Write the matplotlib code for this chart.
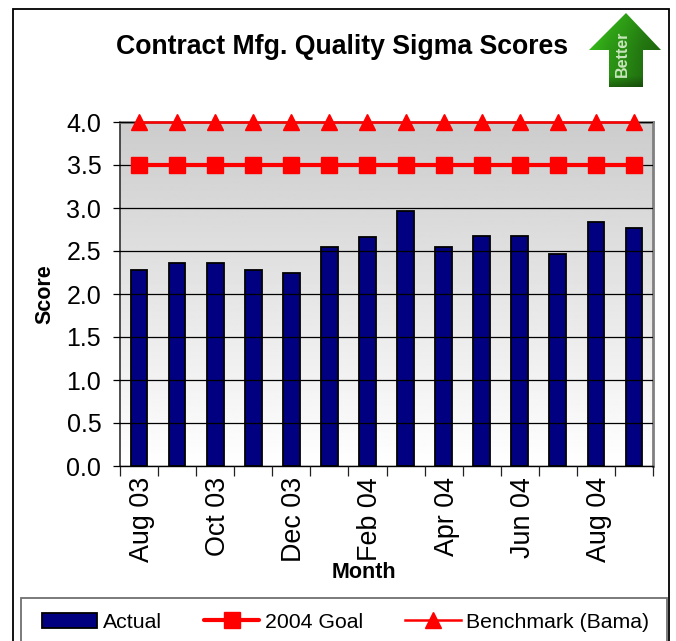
import matplotlib
matplotlib.use('Agg')
import matplotlib.pyplot as plt
from matplotlib.patches import Polygon, Rectangle
from matplotlib.transforms import ScaledTranslation
import numpy as np

months = ['Aug 03', 'Sep 03', 'Oct 03', 'Nov 03', 'Dec 03', 'Jan 04', 'Feb 04',
          'Mar 04', 'Apr 04', 'May 04', 'Jun 04', 'Jul 04', 'Aug 04', 'Sep 04']
actual = [2.28, 2.36, 2.36, 2.28, 2.25, 2.55, 2.66, 2.97, 2.55, 2.68, 2.67, 2.46, 2.84, 2.77]
goal = [3.5] * 14
benchmark = [4.0] * 14
y_ticks = [0.0, 0.5, 1.0, 1.5, 2.0, 2.5, 3.0, 3.5, 4.0]

W, H = 676, 641
plt.rcParams['font.family'] = ['Liberation Sans', 'DejaVu Sans']


def box(x0, y0, x1, y1):
    # pixel box, y measured from the top of the picture
    return [x0 / W, 1 - y1 / H, (x1 - x0) / W, (y1 - y0) / H]


fig = plt.figure(figsize=(W / 100, H / 100), dpi=100)
fig.patch.set_facecolor('white')
fig.add_artist(Rectangle((13 / W, -0.1), 656 / W, 1.1 - 9 / H, transform=fig.transFigure,
                         fill=False, edgecolor='black', linewidth=1.3))
fig.add_artist(Rectangle((21 / W, -0.1), 646 / W, 0.1 + 1 - 598 / H, transform=fig.transFigure,
                         fill=False, edgecolor='#707070', linewidth=1.3))

ax = fig.add_axes(box(120, 122, 653, 466))
x = np.arange(len(months))

# grey to white wall
grad = np.linspace(0.8, 1.0, 256).reshape(-1, 1)
ax.imshow(grad, extent=(-0.5, 13.5, 0, 4), aspect='auto', cmap='gray', vmin=0, vmax=1,
          origin='upper', zorder=0)

ax.yaxis.grid(True, color='black', linewidth=0.9)
ax.set_axisbelow(False)
for g in ax.get_ygridlines():
    g.set_zorder(1)

ax.bar(x, actual, width=0.44, color='#000080', edgecolor='black', linewidth=1.3,
       zorder=2, label='Actual')
ax.plot(x, goal, color='red', linewidth=3, marker='s', markersize=11, zorder=3,
        clip_on=False, solid_capstyle='round', label='2004 Goal')
ax.plot(x, benchmark, color='red', linewidth=1.8, marker='^', markersize=11, zorder=3,
        clip_on=False, label='Benchmark (Bama)')

ax.set_xlim(-0.5, 13.5)
ax.set_ylim(0, 4)
ax.set_yticks(y_ticks)
ax.set_yticklabels(['%.1f' % v for v in y_ticks], fontsize=18)
ax.set_xticks(np.arange(len(months) + 1) - 0.5)
ax.set_xticklabels([])
ax.set_xticks(x[::2], [months[i] for i in x[::2]], minor=True, rotation=90, fontsize=19.4)
ax.tick_params(axis='x', which='minor', length=0, pad=8)
ax.tick_params(axis='x', which='major', length=7, width=0.9, color='#222222')
ax.tick_params(axis='y', length=5, width=0.9, pad=8.5)

# month labels sit a little right of the bar centres
nudge = ScaledTranslation(3 / 100, 0, fig.dpi_scale_trans)
for lab in ax.get_xticklabels(minor=True):
    lab.set_transform(lab.get_transform() + nudge)

for s in ['top', 'right']:
    ax.spines[s].set_color('#808080')
    ax.spines[s].set_linewidth(2)
ax.spines['left'].set_color('#303030')
ax.spines['left'].set_linewidth(1.2)
ax.spines['bottom'].set_color('black')
ax.spines['bottom'].set_linewidth(1)

fig.text(342 / W, 1 - 47 / H, 'Contract Mfg. Quality Sigma Scores', fontsize=19.2,
         fontweight='bold', ha='center', va='center')
fig.text(45 / W, 1 - 294 / H, 'Score', fontsize=15.5, fontweight='bold', rotation=90,
         ha='center', va='center')
fig.text(364 / W, 1 - 573 / H, 'Month', fontsize=15.5, fontweight='bold',
         ha='center', va='center')

handles, labels = ax.get_legend_handles_labels()
order = [labels.index(n) for n in ['Actual', '2004 Goal', 'Benchmark (Bama)']]
fig.legend([handles[i] for i in order], [labels[i] for i in order],
           loc='center left', ncols=3, fontsize=15.3, frameon=False,
           bbox_to_anchor=(42 / W, 1 - 622 / H), borderpad=0, borderaxespad=0,
           handlelength=2.6, handletextpad=0.25, columnspacing=2.0)

# "Better" arrow badge
arrow = fig.add_axes([0, 0, 1, 1], facecolor='none')
across = np.interp(np.linspace(0, 1, 72), [0, 0.27, 0.5, 0.75, 1], [1.25, 1.05, 0.95, 0.8, 0.7])
down = np.interp(np.linspace(0, 1, 74), [0, 0.45, 0.85, 1], [1.15, 1.0, 0.95, 0.65])
base = np.array([0.17, 0.58, 0.08])
shade = np.clip(np.outer(down, across)[:, :, np.newaxis] * base, 0, 1)
im = arrow.imshow(shade, extent=(589, 661, 87, 13), aspect='auto', interpolation='bilinear')
arrow.set_xlim(0, W)
arrow.set_ylim(H, 0)
arrow.axis('off')
shape = Polygon([(626, 13), (661, 50), (643, 50), (643, 87), (609, 87), (609, 50), (589, 50)],
                closed=True, transform=arrow.transData, facecolor='none', edgecolor='none')
arrow.add_patch(shape)
im.set_clip_path(shape)
arrow.text(622, 54, 'Better', color='#c8e6bc', fontsize=11.5, fontweight='bold', rotation=90,
           ha='center', va='center')

fig.savefig('out.png', dpi=100)
